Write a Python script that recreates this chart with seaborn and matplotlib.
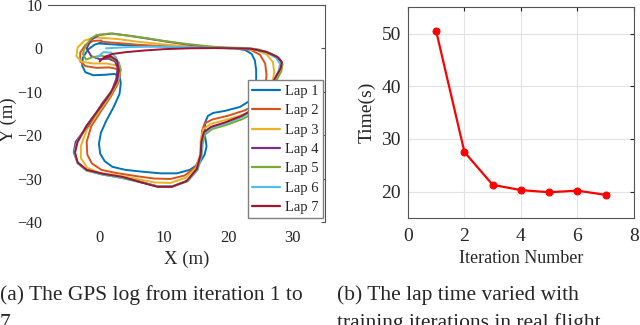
import numpy as np
import pandas as pd
import matplotlib
matplotlib.use("Agg")
import matplotlib.pyplot as plt
import seaborn as sns

# GPS log (X, Y in metres), one list per lap
lap1_x = [0.0, 3, 6, 10, 14, 18, 21, 22.6, 23.6, 24.1, 24.3, 24.3, 24.1, 23.2, 21.8, 19.5, 17.6, 16.8, 16.4, 16.3, 16.5, 16.6, 16.3, 15.5, 14, 12, 9.5, 6.5, 4, 2, 0.8, 0.1, -0.1, 0.2, 1, 2.2, 3.1, 3.3, 3.1, 2.3, 0.8, -1, -2.2, -2.7, -2.6, -1.8, -0.8, 0.2]
lap1_y = [1.1, 0.8, 0.6, 0.4, 0.2, 0.1, 0.0, -0.4, -1.3, -2.8, -5, -7.8, -10.5, -12.2, -13.5, -14.4, -14.9, -15.6, -17, -19.5, -21.5, -22.6, -24.5, -26.5, -28, -28.8, -28.8, -28.4, -28, -27.3, -26, -24.3, -22, -19.5, -16.8, -13.5, -10.5, -8, -6.5, -5.9, -6.1, -6.2, -5.5, -4, -2.2, -0.3, 0.8, 1.3]

lap2_x = [0.3, 3, 6, 10, 14, 18, 21.5, 23.5, 24.9, 25.7, 25.9, 25.8, 25.3, 24.2, 22.5, 20, 17.5, 16.3, 15.9, 15.8, 15.6, 14.8, 13.2, 11, 8.5, 5.5, 2.5, 0.3, -1.2, -1.9, -2.0, -1.3, 0.2, 1.8, 2.9, 3.2, 2.8, 1.5, -0.5, -2.2, -3.0, -3.0, -2.2, -1.0, 0.3]
lap2_y = [1.5, 1.2, 0.8, 0.5, 0.2, 0.1, 0.0, -0.4, -1.5, -3.5, -6, -8.5, -11, -13.2, -14.3, -15.5, -16.4, -17.3, -19, -22, -25, -27.5, -29.3, -30.1, -30, -29.4, -28.7, -28, -26.5, -24.5, -21.5, -18, -14.5, -11, -8, -6, -4.8, -4.4, -4.5, -4.1, -3, -1, 0.8, 1.7, 1.8]

lap3_x = [0.5, 3, 6, 10, 14, 18, 22, 24.5, 26.0, 26.9, 27.1, 26.8, 26.0, 24.6, 22.5, 19.8, 17.3, 16.1, 15.7, 15.6, 15.0, 13.4, 11, 8.5, 5.5, 2.5, 0, -1.9, -2.9, -2.9, -2.0, -0.2, 1.7, 2.9, 3.2, 2.6, 1.0, -1.0, -2.8, -3.6, -3.4, -2.3, -0.8, 0.5]
lap3_y = [2.4, 2.1, 1.5, 0.9, 0.4, 0.1, 0.0, -0.5, -1.5, -3.2, -5.5, -8.3, -11, -13.5, -15.2, -16.4, -17.4, -18.6, -21, -24.5, -27.5, -29.8, -31, -30.9, -30, -29.2, -28.7, -27.5, -25.3, -22.5, -18.8, -14.8, -10.8, -7.5, -5.2, -3.9, -3.5, -3.5, -3.1, -1.8, 0.2, 1.8, 2.5, 2.4]

lap4_x = [0.0, 2, 5, 8, 11, 14, 17, 20, 23.5, 25.8, 27.5, 28.2, 28.1, 27.4, 26.5, 25.6, 24.3, 22, 19.5, 17.3, 16.3, 15.9, 15.7, 15.1, 13.6, 11.3, 9, 6.5, 3.5, 0.5, -2, -3.4, -4.0, -3.7, -1.6, 0.4, 1.9, 2.6, 2.8, 2.4, 1.4, 0.0, -1.3, -2.0, -1.3, 0.0]
lap4_y = [3.1, 3.4, 2.8, 2.1, 1.4, 0.8, 0.3, 0.1, -0.1, -0.8, -1.9, -3.1, -4.6, -6.5, -9, -11.5, -13.8, -15.8, -17.2, -18.2, -19.3, -21.5, -24.5, -27.8, -30.5, -31.8, -31.8, -30.8, -29.7, -29, -28, -26.3, -24, -21.5, -17.5, -12.7, -9.8, -7, -4.5, -3, -2.4, -2.5, -1.8, 0, 2, 3.1]

lap5_x = [-0.5, 1.5, 4, 7, 10, 13, 16, 19, 22, 24.5, 26.5, 27.9, 28.4, 28.2, 27.4, 26.6, 25.8, 24.5, 22.2, 19.8, 17.5, 16.4, 16.0, 15.8, 15.2, 13.7, 11.4, 9, 6.5, 3.5, 0.5, -2, -3.4, -3.9, -3.5, -2.0, 0.0, 1.7, 2.8, 3.3, 3.0, 1.8, 0.2, -1.2, -2.1, -2.6, -2.1, -1.2, -0.5]
lap5_y = [3.0, 3.4, 3.0, 2.4, 1.7, 1.1, 0.6, 0.2, 0.1, -0.2, -1.1, -2.3, -3.6, -5.3, -7.5, -10, -12.3, -14.5, -16.3, -17.6, -18.6, -19.8, -22, -25, -28, -30.6, -31.8, -31.8, -30.9, -29.9, -29.1, -28.2, -26.5, -24.2, -21.8, -18, -14, -10.5, -7.5, -5, -3.2, -2.2, -1.7, -2.1, -2.6, -1.3, 0.8, 2.4, 3.0]

lap6_x = [1.0, 5, 10, 15, 20, 23.5, 25.8, 27.4, 28.0, 27.8, 27.1, 26.3, 25.5, 24.2, 22, 19.6, 17.4, 16.3, 15.9, 15.8, 15.2, 13.6, 11.3, 9, 6.5, 3.5, 0.5, -2, -3.4, -3.9, -3.5, -2.0, 0.0, 1.7, 2.9, 3.1, 2.6, 1.8, 0.6, -0.4]
lap6_y = [0.0, 0.3, 0.4, 0.2, 0.0, -0.1, -0.9, -2.2, -3.6, -5.2, -7.3, -9.6, -11.9, -14.1, -15.9, -17.3, -18.3, -19.5, -21.7, -24.7, -27.9, -30.6, -31.8, -31.8, -30.9, -29.8, -29.1, -28.1, -26.4, -24.1, -21.6, -17.8, -13.8, -10.3, -7, -4.5, -2.2, -1.0, -0.9, -2.1]

lap7_x = [0.0, 0.8, 2, 4, 7, 10, 14, 18, 21, 23.5, 25.8, 27.6, 28.3, 28.1, 27.3, 26.4, 25.5, 24.2, 22, 19.6, 17.3, 16.2, 15.8, 15.7, 15.1, 13.5, 11.2, 9, 6.5, 3.5, 0.5, -2, -3.4, -3.8, -3.4, -2.0, 0.0, 1.7, 2.7, 3.0, 2.7, 1.8, 0.8]
lap7_y = [-3.0, -2.0, -1.3, -0.9, -0.5, -0.2, 0.0, 0.05, 0.0, -0.1, -0.8, -2.0, -3.2, -4.6, -6.7, -9.2, -11.6, -13.8, -15.6, -17.0, -18.1, -19.3, -21.5, -24.5, -27.8, -30.6, -31.9, -31.9, -30.9, -29.6, -28.9, -28.0, -26.3, -24, -21.5, -17.8, -13.8, -10.3, -7.5, -5.0, -2.8, -1.9, -2.0]

lap_names = ["Lap 1", "Lap 2", "Lap 3", "Lap 4", "Lap 5", "Lap 6", "Lap 7"]
lap_colors = ["#0072BD", "#D95319", "#EDB120", "#7E2F8E", "#77AC30", "#4DBEEE", "#A2142F"]

# lap time per training iteration
iteration = [1, 2, 3, 4, 5, 6, 7]
lap_time = [50.4, 27.5, 21.3, 20.3, 19.9, 20.2, 19.4]

laps_x = [lap1_x, lap2_x, lap3_x, lap4_x, lap5_x, lap6_x, lap7_x]
laps_y = [lap1_y, lap2_y, lap3_y, lap4_y, lap5_y, lap6_y, lap7_y]
gps = pd.concat([pd.DataFrame({"x": lx, "y": ly, "lap": name})
                 for lx, ly, name in zip(laps_x, laps_y, lap_names)], ignore_index=True)

sns.set_style("white")
plt.rcParams["font.family"] = ["Liberation Serif", "DejaVu Serif"]
plt.rcParams["lines.solid_joinstyle"] = "round"
plt.rcParams["lines.solid_capstyle"] = "round"

fig = plt.figure(figsize=(6.4, 3.25), dpi=100)
ax1 = fig.add_axes([0.075, 0.317, 0.433, 0.668])
ax2 = fig.add_axes([0.6375, 0.329, 0.353, 0.649])

# Left: GPS log
sns.lineplot(data=gps, x="x", y="y", hue="lap", palette=lap_colors, sort=False,
             estimator=None, linewidth=1.4, ax=ax1)
ax1.set_xlim(-8, 35)
ax1.set_ylim(-40, 10)
ax1.set_xticks([0, 10, 20, 30])
ax1.set_yticks([-40, -30, -20, -10, 0, 10])
ax1.set_xlabel("X (m)", fontsize=13.5, labelpad=3)
ax1.set_ylabel("Y (m)", fontsize=13.5)
ax1.yaxis.set_label_coords(-0.112, 0.47)
for side in ["left", "bottom"]:
    ax1.spines[side].set_visible(False)
for side in ["top", "right"]:
    ax1.spines[side].set_color("#555555")
    ax1.spines[side].set_linewidth(0.8)
ax1.tick_params(axis="both", labelsize=12, colors="#262626", length=0)
ax1.tick_params(axis="x", pad=6)
ax1.tick_params(axis="y", labelsize=11.5, pad=4, right=True, direction="in", length=3, color="#555555")
leg = ax1.legend(loc="upper left", bbox_to_anchor=(0.722, 0.652), borderaxespad=0,
                 fontsize=10.5, handlelength=1.9, labelspacing=0.42, handletextpad=0.3,
                 borderpad=0.3, fancybox=False, framealpha=1, edgecolor="#7f7f7f")
leg.get_frame().set_linewidth(1.0)
for line in leg.get_lines():
    line.set_linewidth(1.6)

# Right: lap time vs iteration
sns.lineplot(x=iteration, y=lap_time, marker="o", color="red", markersize=5,
             markeredgecolor="red", linewidth=1.6, ax=ax2)
ax2.set_xlim(0, 8)
ax2.set_ylim(15, 55)
ax2.set_xticks([0, 2, 4, 6, 8])
ax2.set_yticks([20, 30, 40, 50])
ax2.grid(True, color="#e3e3e3", linewidth=0.8)
ax2.set_xlabel("Iteration Number", fontsize=13, labelpad=4)
ax2.set_ylabel("Time(s)", fontsize=14, labelpad=4)
for side in ax2.spines.values():
    side.set_color("#555555")
    side.set_linewidth(0.8)
ax2.tick_params(axis="both", labelsize=14, colors="#262626", direction="in", length=3,
                top=True, right=True)
ax2.tick_params(axis="x", pad=7)
ax2.tick_params(axis="y", pad=5)

# sub-figure captions (cut off by the bottom edge, as in the source)
fig.text(0.0, 0.077, "(a) The GPS log from iteration 1 to", fontsize=15.5, va="baseline", ha="left")
fig.text(0.0, -0.008, "7", fontsize=15.5, va="baseline", ha="left")
fig.text(0.527, 0.077, "(b) The lap time varied with", fontsize=15.5, va="baseline", ha="left")
fig.text(0.527, -0.008, "training iterations in real flight.", fontsize=15.5, va="baseline", ha="left")

fig.savefig("out.png", dpi=100)
